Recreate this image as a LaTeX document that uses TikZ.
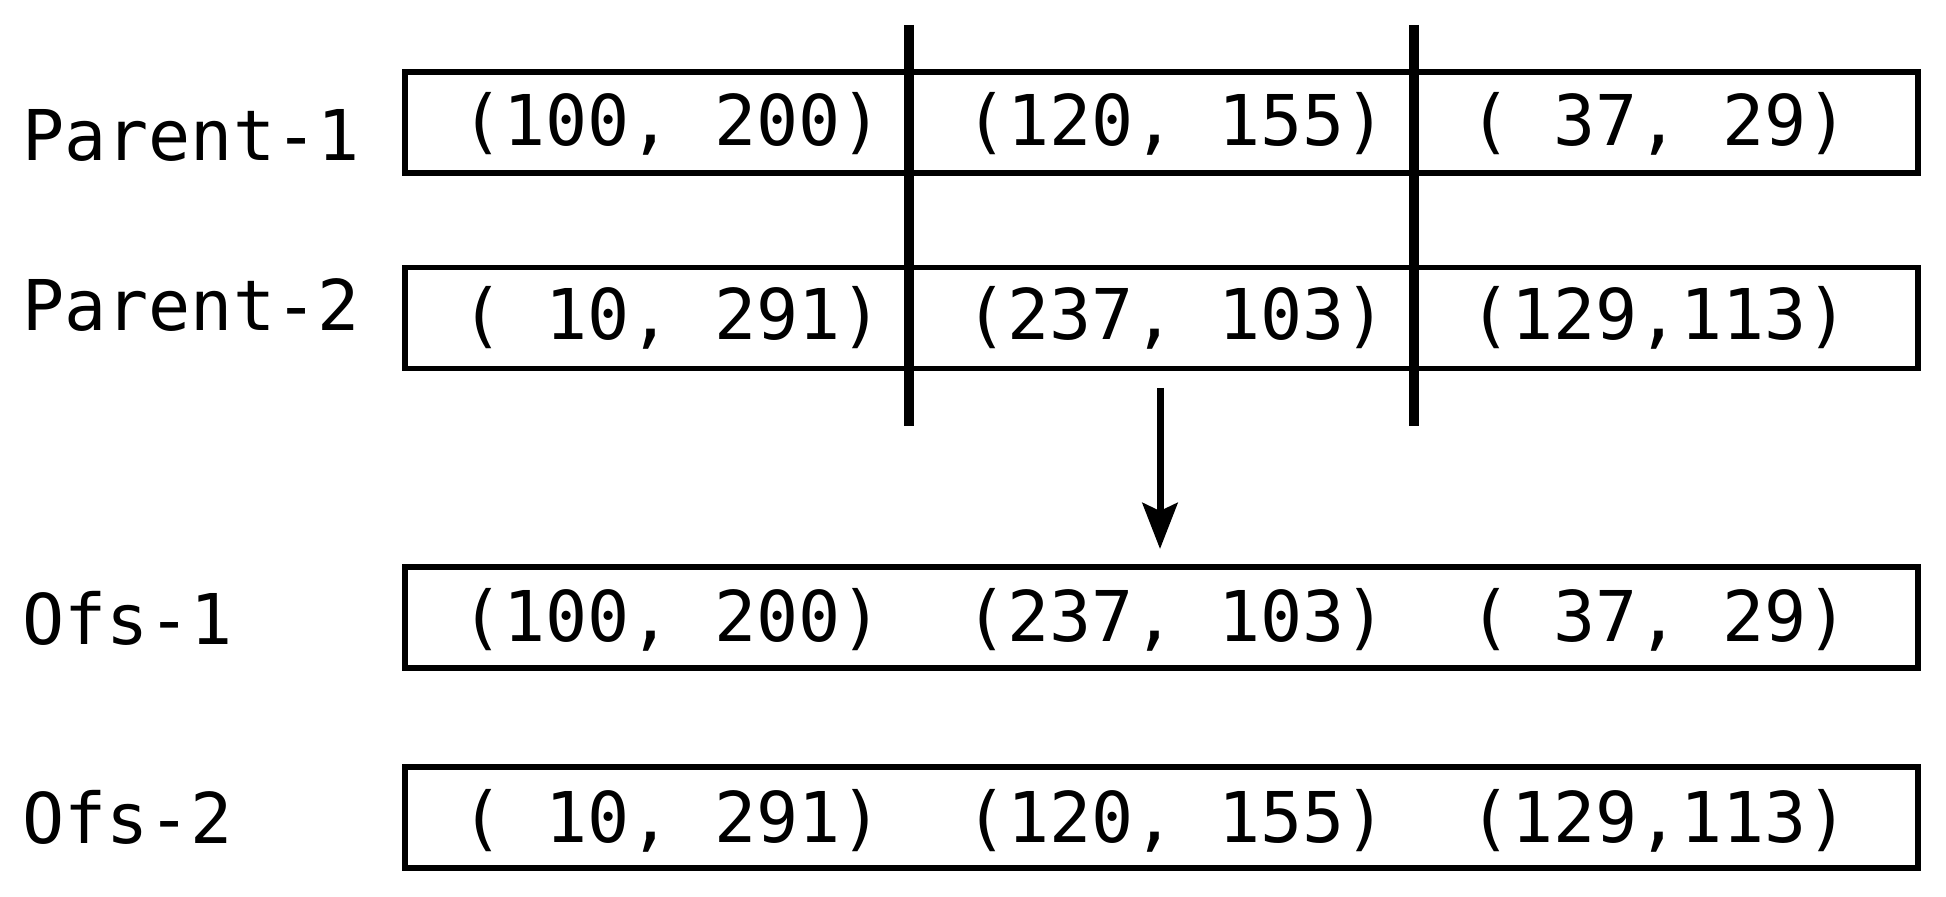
\documentclass[tikz,border=0pt]{standalone}
\usepackage{fontspec}
\newfontfamily\monofont{DejaVu Sans Mono}
\usetikzlibrary{arrows.meta}
\begin{document}
\begin{tikzpicture}[x=0.5pt,y=-0.5pt,
  rowbox/.style={draw, line width=2.75pt, rectangle, minimum width=756.5pt, minimum height=50.5pt, inner sep=0pt},
  cell/.style={font=\monofont\fontsize{35pt}{42pt}\selectfont, inner sep=0pt, anchor=base west},
  cut/.style={line width=4.8pt},
  flow/.style={line width=3.5pt, -{Stealth[length=23pt, width=17.5pt, inset=4pt]}}
]
\useasboundingbox (0,0) rectangle (1946,897);
% boxes
\node[rowbox] (p1) at (1161.5,122.5) {};
\node[rowbox] (p2) at (1161.5,318) {};
\node[rowbox] (o1) at (1161.5,617.5) {};
\node[rowbox] (o2) at (1161.5,817.5) {};
% labels
\node[cell] (lp1) at (22,161) {Parent-1};
\node[cell] (lp2) at (22,331) {Parent-2};
\node[cell] (lo1) at (22,644) {Ofs-1};
\node[cell] (lo2) at (22,843) {Ofs-2};
% row texts
\node[cell] (p1a) at (461,146) {(100, 200)};
\node[cell] (p1b) at (965,146) {(120, 155)};
\node[cell] (p1c) at (1469,146) {( 37, 29)};
\node[cell] (p2a) at (461,340) {( 10, 291)};
\node[cell] (p2b) at (965,340) {(237, 103)};
\node[cell] (p2c) at (1469,340) {(129,113)};
\node[cell] (o1a) at (461,641) {(100, 200)};
\node[cell] (o1b) at (965,641) {(237, 103)};
\node[cell] (o1c) at (1469,641) {( 37, 29)};
\node[cell] (o2a) at (461,842) {( 10, 291)};
\node[cell] (o2b) at (965,842) {(120, 155)};
\node[cell] (o2c) at (1469,842) {(129,113)};
% cut lines
\coordinate (c1t) at (909,25);
\coordinate (c1b) at (909,426);
\coordinate (c2t) at (1414,25);
\coordinate (c2b) at (1414,426);
\draw[cut] (c1t) -- (c1b);
\draw[cut] (c2t) -- (c2b);
% arrow
\coordinate (as) at (1160,388);
\coordinate (ae) at (1160,549);
\draw[flow] (as) -- (ae);
\end{tikzpicture}
\end{document}
